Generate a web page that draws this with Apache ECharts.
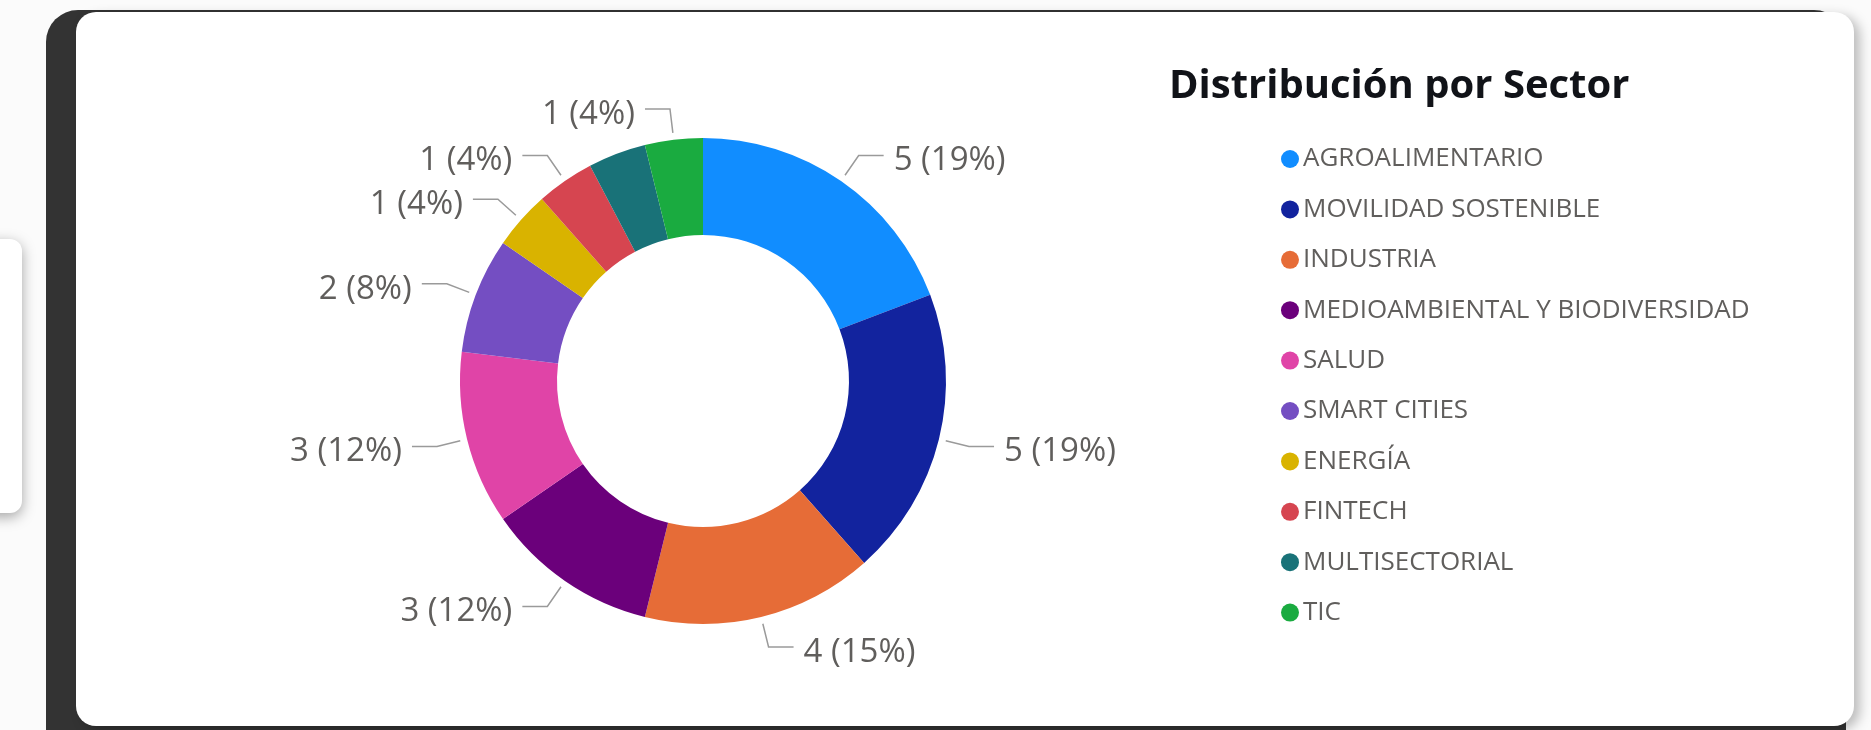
<!DOCTYPE html>
<html>
<head>
<meta charset="utf-8">
<script src="https://cdn.jsdelivr.net/npm/echarts@6/dist/echarts.min.js"></script>
<style>
  html, body { margin: 0; padding: 0; width: 1871px; height: 730px; overflow: hidden; background: #fbfbfb; font-family: 'Segoe UI', 'Open Sans', sans-serif; }
  .side-panel { position: absolute; left: -20px; top: 239px; width: 42px; height: 274px; background: #fff; border-radius: 12px; box-shadow: 0 4px 14px rgba(0,0,0,0.35); }
  .card-back { position: absolute; left: 46px; top: 10px; width: 1800px; height: 760px; background: #333; border-radius: 32px; }
  .card { position: absolute; left: 76px; top: 12px; width: 1778px; height: 714px; background: #fff; border-radius: 20px; box-shadow: 6px 4px 12px rgba(0,0,0,0.25); }
  #chart { position: absolute; left: 0; top: 0; width: 1871px; height: 730px; }
</style>
</head>
<body>
<div class="side-panel"></div>
<div class="card-back"></div>
<div class="card"></div>
<div id="chart"></div>
<script>
// datos del gráfico
const sectores = ['AGROALIMENTARIO', 'MOVILIDAD SOSTENIBLE', 'INDUSTRIA', 'MEDIOAMBIENTAL Y BIODIVERSIDAD', 'SALUD', 'SMART CITIES', 'ENERGÍA', 'FINTECH', 'MULTISECTORIAL', 'TIC']
const valores = [5, 5, 4, 3, 3, 2, 1, 1, 1, 1]
const colores = ['#118DFF', '#12239E', '#E66C37', '#6B007B', '#E044A7', '#744EC2', '#D9B300', '#D64550', '#197278', '#1AAB40']
// etiqueta oculta en el original (no cabe)
const sinEtiqueta = ['MULTISECTORIAL']
const titulo = 'Distribución por Sector'

const total = valores.reduce((a, b) => a + b, 0)
const fuente = "'Segoe UI', 'Open Sans', sans-serif"

const chart = echarts.init(document.getElementById('chart'))
chart.setOption({
  color: colores,
  animation: false,
  title: {
    text: titulo,
    left: 1169,
    top: 67,
    padding: 0,
    textStyle: {
      fontFamily: fuente,
      fontSize: 40,
      fontWeight: 'bold',
      color: '#111318'
    }
  },
  legend: {
    orient: 'vertical',
    left: 1276,
    top: 141,
    icon: 'circle',
    itemWidth: 20,
    itemHeight: 18,
    itemGap: 24.4,
    selectedMode: false,
    data: sectores,
    textStyle: {
      fontFamily: fuente,
      fontSize: 26,
      color: '#605e5c',
      padding: [0, 0, 0, -2]
    }
  },
  series: [{
    // anillo
    type: 'pie',
    center: [703, 381],
    radius: [146, 243],
    startAngle: 90,
    clockwise: true,
    data: sectores.map((s, i) => ({ name: s, value: valores[i] })),
    label: { show: false },
    labelLine: { show: false },
    emphasis: { disabled: true }
  }, {
    // solo etiquetas, un poco separadas del anillo
    type: 'pie',
    center: [703, 381],
    radius: [249, 250],
    startAngle: 90,
    clockwise: true,
    silent: true,
    avoidLabelOverlap: false,
    itemStyle: { color: 'rgba(0,0,0,0)' },
    data: sectores.map((s, i) => ({
      name: s,
      value: valores[i],
      label: { show: sinEtiqueta.indexOf(s) < 0 },
      labelLine: { show: sinEtiqueta.indexOf(s) < 0 }
    })),
    label: {
      show: true,
      position: 'outside',
      distanceToLabelLine: 10,
      fontFamily: fuente,
      fontSize: 33,
      color: '#605e5c',
      // linea vacia arriba para bajar un poco el texto respecto a la guia
      formatter: p => '{g|\u00a0}\n{t|' + p.value + ' (' + Math.round(p.value / total * 100) + '%)}',
      rich: {
        g: { fontSize: 1, lineHeight: 11 },
        t: { fontFamily: fuente, fontSize: 33, lineHeight: 40, color: '#605e5c' }
      }
    },
    labelLine: {
      show: true,
      length: 24,
      length2: 25,
      lineStyle: { color: '#9a9a9a', width: 1.5 }
    },
    emphasis: { disabled: true }
  }]
})
</script>
</body>
</html>
